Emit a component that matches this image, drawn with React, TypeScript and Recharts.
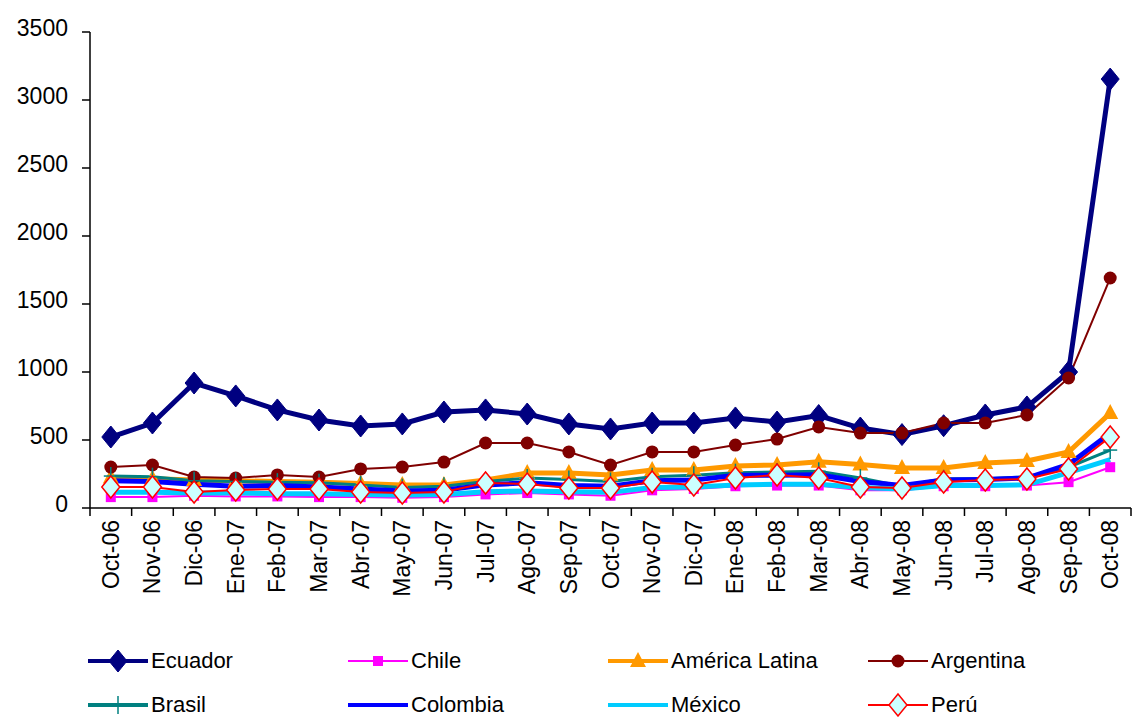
import React from "react";
import { LineChart, Line, XAxis, YAxis } from "recharts";

const months = [
  "Oct-06", "Nov-06", "Dic-06", "Ene-07", "Feb-07", "Mar-07", "Abr-07", "May-07", "Jun-07",
  "Jul-07", "Ago-07", "Sep-07", "Oct-07", "Nov-07", "Dic-07", "Ene-08", "Feb-08", "Mar-08",
  "Abr-08", "May-08", "Jun-08", "Jul-08", "Ago-08", "Sep-08", "Oct-08",
];

const ecuador = [522, 625, 919, 824, 721, 647, 603, 618, 706, 721, 691, 618, 581, 625, 625, 662, 632, 680, 588, 540, 605, 684, 743, 1000, 3154];
const chile = [80, 80, 90, 85, 85, 80, 80, 75, 80, 100, 110, 100, 90, 130, 140, 160, 165, 165, 130, 130, 160, 160, 165, 190, 300];
const americaLatina = [225, 215, 205, 200, 195, 190, 180, 170, 169, 206, 257, 257, 243, 279, 279, 309, 316, 340, 320, 294, 294, 331, 346, 412, 698];
const argentina = [301, 316, 228, 220, 243, 228, 287, 301, 338, 478, 478, 412, 316, 412, 412, 463, 507, 596, 551, 551, 625, 625, 684, 956, 1691];
const brasil = [235, 230, 200, 195, 190, 185, 170, 150, 160, 195, 220, 210, 195, 230, 240, 260, 265, 270, 220, 160, 215, 215, 230, 300, 426];
const colombia = [200, 195, 175, 160, 165, 155, 140, 125, 130, 170, 185, 165, 160, 200, 205, 240, 240, 245, 195, 165, 205, 210, 220, 320, 550];
const mexico = [115, 115, 110, 110, 105, 105, 100, 95, 100, 120, 125, 120, 115, 150, 155, 170, 175, 175, 150, 140, 165, 165, 170, 260, 355];
const peru = [154, 154, 118, 132, 140, 140, 118, 110, 118, 184, 176, 147, 147, 191, 169, 220, 243, 220, 154, 147, 191, 206, 213, 287, 522];

const yTicks = [0, 500, 1000, 1500, 2000, 2500, 3000, 3500];

const data = months.map((m, i) => ({
  month: m,
  ecuador: ecuador[i],
  chile: chile[i],
  americaLatina: americaLatina[i],
  argentina: argentina[i],
  brasil: brasil[i],
  colombia: colombia[i],
  mexico: mexico[i],
  peru: peru[i],
}));

type Marker = "diamond" | "square" | "triangle" | "circle" | "plus" | "openDiamond" | "none";

const series: { key: string; name: string; color: string; width: number; marker: Marker }[] = [
  { key: "ecuador", name: "Ecuador", color: "#000080", width: 5, marker: "diamond" },
  { key: "chile", name: "Chile", color: "#FF00FF", width: 2, marker: "square" },
  { key: "americaLatina", name: "América Latina", color: "#FF9900", width: 5, marker: "triangle" },
  { key: "argentina", name: "Argentina", color: "#800000", width: 2, marker: "circle" },
  { key: "brasil", name: "Brasil", color: "#008080", width: 3, marker: "plus" },
  { key: "colombia", name: "Colombia", color: "#0000FF", width: 5, marker: "none" },
  { key: "mexico", name: "México", color: "#00CCFF", width: 5, marker: "none" },
  { key: "peru", name: "Perú", color: "#FF0000", width: 2, marker: "openDiamond" },
];

const FONT = "Arial, 'Liberation Sans', sans-serif";
const HALF_BAND = 20.8;

function drawMarker(marker: Marker, color: string, cx: number, cy: number, key?: any) {
  switch (marker) {
    case "diamond":
      return <path key={key} d={`M${cx},${cy - 11} L${cx + 9},${cy} L${cx},${cy + 11} L${cx - 9},${cy} Z`} fill={color} stroke={color} />;
    case "square":
      return <rect key={key} x={cx - 5} y={cy - 5} width={10} height={10} fill={color} />;
    case "triangle":
      return <path key={key} d={`M${cx},${cy - 9} L${cx + 8},${cy + 6} L${cx - 8},${cy + 6} Z`} fill={color} />;
    case "circle":
      return <circle key={key} cx={cx} cy={cy} r={6.5} fill={color} />;
    case "plus":
      return (
        <g key={key} stroke={color} strokeWidth={1.5}>
          <line x1={cx - 7} y1={cy} x2={cx + 7} y2={cy} />
          <line x1={cx} y1={cy - 9} x2={cx} y2={cy + 9} />
        </g>
      );
    case "openDiamond":
      return <path key={key} d={`M${cx},${cy - 11} L${cx + 9},${cy} L${cx},${cy + 11} L${cx - 9},${cy} Z`} fill="#CCFFFF" stroke="#FF0000" strokeWidth={1.5} />;
    default:
      return <g key={key} />;
  }
}

const XTick = (props: any) => {
  const { x, y, payload, index } = props;
  const axisY = y - 12;
  return (
    <g>
      <line x1={x - HALF_BAND} y1={axisY} x2={x - HALF_BAND} y2={axisY + 8} stroke="#000" strokeWidth={1.5} />
      {index === months.length - 1 && (
        <line x1={x + HALF_BAND} y1={axisY} x2={x + HALF_BAND} y2={axisY + 8} stroke="#000" strokeWidth={1.5} />
      )}
      <text
        x={x}
        y={y}
        transform={`rotate(-90, ${x}, ${y})`}
        textAnchor="end"
        dy="0.35em"
        fontSize={23}
        fontFamily={FONT}
        fill="#000"
      >
        {payload.value}
      </text>
    </g>
  );
};

const Legend8 = () => (
  <div style={{ position: "absolute", left: 88, top: 639, width: 1040, display: "flex", flexWrap: "wrap", fontFamily: FONT, fontSize: 22, lineHeight: "26px" }}>
    {series.map((s) => (
      <div key={s.key} style={{ width: 260, height: 44, display: "flex", alignItems: "center" }}>
        <svg width={60} height={30} style={{ flex: "none" }}>
          <line x1={0} y1={15} x2={60} y2={15} stroke={s.color} strokeWidth={s.width === 2 ? 2 : 4} />
          {drawMarker(s.marker, s.color, 30, 15)}
        </svg>
        <span style={{ marginLeft: 3, color: "#000" }}>{s.name}</span>
      </div>
    ))}
  </div>
);

export default function App() {
  return (
    <div style={{ position: "absolute", left: 0, top: 0, width: 1133, height: 717, background: "#fff", overflow: "hidden" }}>
      <LineChart width={1133} height={717} data={data} margin={{ top: 32, right: 2, left: 0, bottom: 109 }}>
        <XAxis
          dataKey="month"
          interval={0}
          height={100}
          padding={{ left: HALF_BAND, right: HALF_BAND }}
          axisLine={{ stroke: "#000", strokeWidth: 1.5 }}
          tickLine={false}
          tickSize={8}
          tickMargin={4}
          tick={<XTick />}
        />
        <YAxis
          width={90}
          domain={[0, 3500]}
          ticks={yTicks}
          interval={0}
          axisLine={{ stroke: "#000", strokeWidth: 1.5 }}
          tickLine={{ stroke: "#000", strokeWidth: 1.5 }}
          tickSize={8}
          tickMargin={14}
          tick={{ fontSize: 23, fontFamily: FONT, fill: "#000", dy: -4 }}
        />
        {series.map((s) => (
          <Line
            key={s.key}
            dataKey={s.key}
            name={s.name}
            type="linear"
            stroke={s.color}
            strokeWidth={s.width}
            isAnimationActive={false}
            dot={(p: any) => drawMarker(s.marker, s.color, p.cx, p.cy, p.key ?? `${s.key}-${p.index}`)}
            activeDot={false}
          />
        ))}
      </LineChart>
      <Legend8 />
    </div>
  );
}
